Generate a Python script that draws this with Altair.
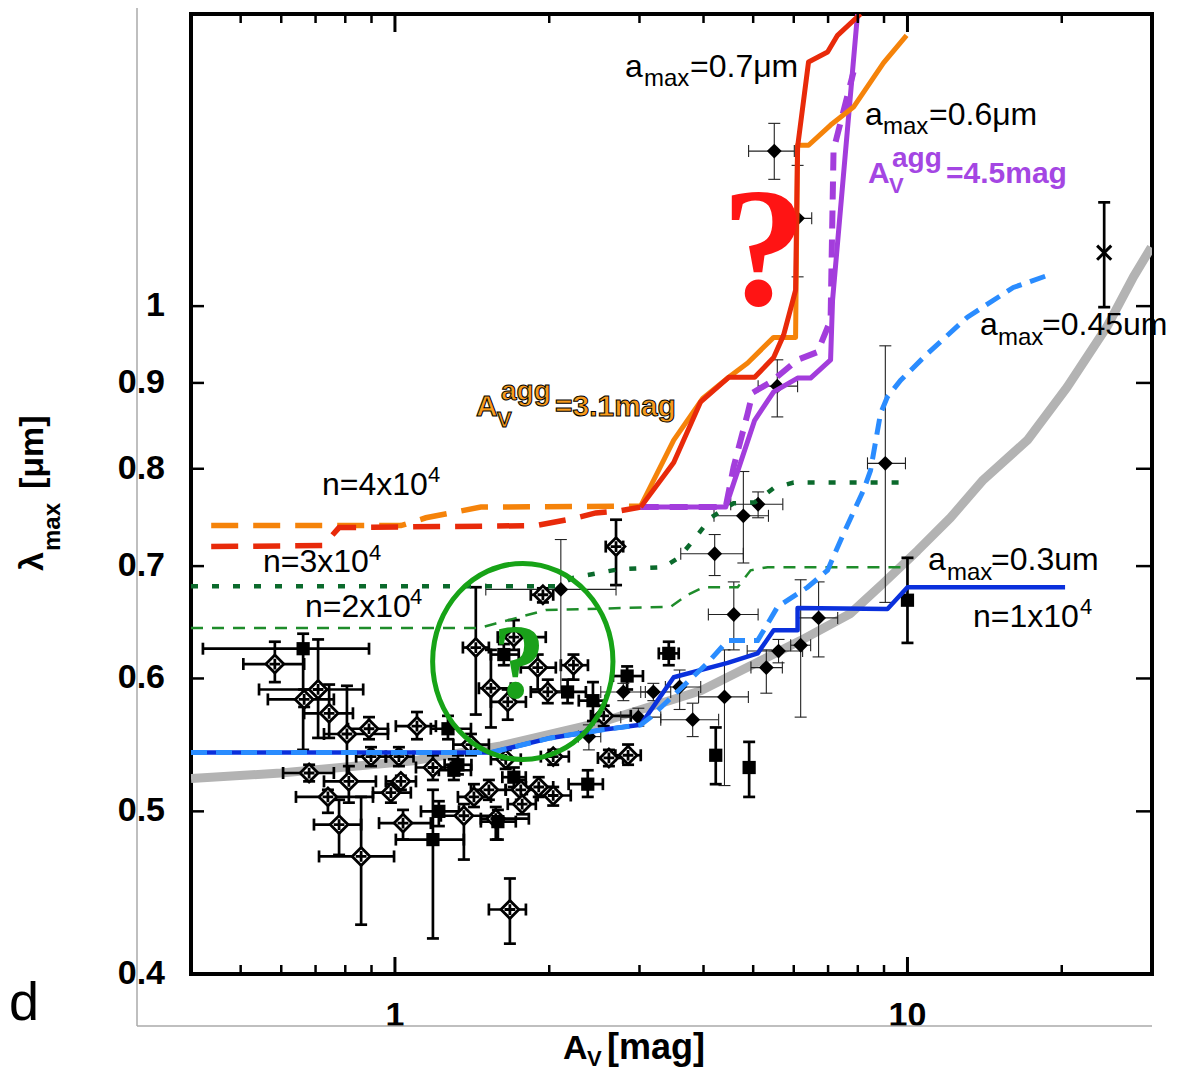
import altair as alt
import pandas as pd

# ---------------- model curves (A_V [mag], lambda_max [um]) ----------------
gray_x = [0.400, 0.599, 1.089, 1.609, 2.521, 3.949, 6.185, 7.743, 8.98, 10.46, 12.13, 14.06, 17.14, 20.5, 24.5, 27.6, 29.9]
gray_y = [0.523, 0.527, 0.536, 0.547, 0.565, 0.590, 0.632, 0.656, 0.684, 0.715, 0.748, 0.788, 0.832, 0.895, 0.972, 1.041, 1.084]

blue_x = [0.400, 1.538, 2.014, 2.521, 3.016, 3.499, 4.459, 5.101, 5.481, 6.104, 6.104, 9.14, 10.0, 20.3]
blue_y = [0.542, 0.542, 0.553, 0.559, 0.563, 0.601, 0.613, 0.621, 0.641, 0.641, 0.661, 0.660, 0.680, 0.680]

lblue_x = [0.400, 1.538, 2.014, 2.521, 3.016, 3.155, 4.075, 4.459, 5.101, 5.579, 6.384, 6.985, 7.504, 8.209, 8.47, 8.86, 9.14, 9.69, 10.94, 13.09, 16.09, 19.26]
lblue_y = [0.542, 0.542, 0.553, 0.559, 0.563, 0.569, 0.613, 0.632, 0.632, 0.662, 0.680, 0.696, 0.732, 0.777, 0.798, 0.863, 0.883, 0.903, 0.937, 0.985, 1.026, 1.046]

dgreen_x = [0.400, 2.060, 2.233, 2.733, 3.345, 3.578, 3.862, 4.13, 4.579, 5.033, 5.481, 5.995, 9.91]
dgreen_y = [0.681, 0.681, 0.689, 0.697, 0.699, 0.708, 0.728, 0.748, 0.763, 0.764, 0.779, 0.785, 0.785]

tgreen_x = [0.400, 1.458, 1.573, 1.969, 3.451, 3.726, 4.003, 4.663, 4.943, 5.335, 9.91]
tgreen_y = [0.643, 0.643, 0.647, 0.659, 0.662, 0.673, 0.680, 0.680, 0.696, 0.699, 0.699]

odash_x = [0.438, 1.027, 1.149, 1.286, 1.471, 3.016]
odash_y = [0.740, 0.740, 0.748, 0.753, 0.759, 0.760]

rdash_x = [0.438, 0.724, 0.778, 1.883, 2.223, 2.465, 2.733, 3.016]
rdash_y = [0.719, 0.720, 0.738, 0.740, 0.747, 0.753, 0.755, 0.759]

orange_x = [3.016, 3.499, 3.985, 4.479, 4.877, 5.481, 6.049, 6.104, 6.412, 7.079, 7.847, 8.98, 9.96]
orange_y = [0.760, 0.832, 0.881, 0.907, 0.925, 0.958, 0.958, 1.247, 1.247, 1.282, 1.314, 1.396, 1.450]

red_x = [3.016, 3.499, 3.949, 4.479, 5.033, 5.481, 5.732, 6.049, 6.104, 6.412, 6.985, 7.304, 8.10]
red_y = [0.759, 0.807, 0.877, 0.907, 0.907, 0.932, 0.961, 1.022, 1.244, 1.398, 1.417, 1.450, 1.493]

purple_x = [3.016, 4.419, 5.033, 5.481, 6.104, 6.47, 7.079, 7.142, 7.99]
purple_y = [0.759, 0.759, 0.855, 0.889, 0.906, 0.906, 0.929, 1.008, 1.493]

pdash_x = [3.016, 4.419, 4.579, 4.877, 4.988, 5.408, 6.104, 6.677, 7.079, 7.174, 7.847]
pdash_y = [0.759, 0.759, 0.802, 0.863, 0.888, 0.901, 0.929, 0.939, 0.981, 1.239, 1.379]

# ---------------- observations: (x, y, xlo, xhi, ylo, yhi) ----------------
open_pts = [
    (0.583, 0.612, 0.506, 0.665, 0.597, 0.631), (0.708, 0.591, 0.543, 0.867, 0.553, 0.633),
    (0.665, 0.583, 0.565, 0.760, 0.577, 0.591), (0.744, 0.572, 0.665, 0.828, 0.553, 0.595),
    (0.806, 0.556, 0.727, 0.969, 0.522, 0.594), (0.890, 0.560, 0.810, 0.969, 0.552, 0.569),
    (1.104, 0.562, 1.004, 1.202, 0.552, 0.573), (0.680, 0.527, 0.605, 0.760, 0.521, 0.533),
    (0.813, 0.521, 0.727, 0.918, 0.506, 0.532), (0.740, 0.510, 0.641, 0.906, 0.499, 0.515),
    (0.778, 0.491, 0.695, 0.859, 0.471, 0.508), (0.859, 0.470, 0.711, 0.996, 0.428, 0.510),
    (1.037, 0.492, 0.931, 1.175, 0.481, 0.501), (0.982, 0.513, 0.906, 1.074, 0.506, 0.519),
    (1.027, 0.521, 0.960, 1.099, 0.515, 0.525), (1.186, 0.531, 1.099, 1.286, 0.522, 0.540),
    (1.363, 0.497, 1.229, 1.573, 0.468, 0.505), (1.426, 0.510, 1.327, 1.539, 0.503, 0.519),
    (1.525, 0.515, 1.407, 1.645, 0.508, 0.522), (1.573, 0.495, 1.471, 1.825, 0.481, 0.503),
    (1.760, 0.515, 1.645, 1.883, 0.508, 0.522), (1.908, 0.517, 1.801, 2.036, 0.510, 0.524),
    (2.036, 0.511, 1.899, 2.203, 0.504, 0.517), (1.676, 0.437, 1.525, 1.801, 0.417, 0.456),
    (2.615, 0.538, 2.489, 2.788, 0.532, 0.544), (2.850, 0.540, 2.692, 3.017, 0.533, 0.548),
    (1.438, 0.626, 1.357, 1.525, 0.571, 0.680), (1.944, 0.673, 1.841, 2.036, 0.666, 0.679),
    (2.700, 0.719, 2.578, 2.788, 0.682, 0.746), (1.706, 0.635, 1.587, 1.969, 0.624, 0.650),
    (1.899, 0.609, 1.760, 2.060, 0.591, 0.620), (2.230, 0.611, 2.107, 2.380, 0.599, 0.620),
    (1.539, 0.592, 1.458, 1.683, 0.561, 0.624), (1.660, 0.581, 1.539, 1.801, 0.567, 0.591),
    (1.987, 0.589, 1.841, 2.126, 0.580, 0.599), (2.555, 0.570, 2.412, 2.885, 0.562, 0.578),
    (2.036, 0.539, 1.926, 2.184, 0.533, 0.544), (1.018, 0.539, 0.960, 1.087, 0.532, 0.546),
    (0.898, 0.539, 0.840, 0.960, 0.532, 0.546), (1.771, 0.505, 1.660, 1.883, 0.498, 0.512),
    (1.645, 0.537, 1.539, 1.760, 0.530, 0.544), (1.407, 0.548, 1.300, 1.525, 0.540, 0.556),
]
square_pts = [
    (0.662, 0.625, 0.422, 0.890, 0.544, 0.638), (1.269, 0.560, 1.175, 1.407, 0.552, 0.570),
    (1.186, 0.481, 1.004, 1.363, 0.420, 0.515), (1.218, 0.500, 1.124, 1.333, 0.490, 0.507),
    (1.303, 0.529, 1.218, 1.407, 0.522, 0.537), (1.631, 0.620, 1.539, 1.744, 0.611, 0.629),
    (1.588, 0.493, 1.471, 1.721, 0.481, 0.501), (2.378, 0.519, 2.182, 2.545, 0.510, 0.529),
    (2.172, 0.589, 2.014, 2.358, 0.580, 0.599), (2.434, 0.582, 2.284, 2.578, 0.566, 0.597),
    (3.422, 0.621, 3.272, 3.578, 0.611, 0.631), (2.838, 0.602, 2.663, 3.047, 0.591, 0.610),
    (4.226, 0.540, 4.226, 4.226, 0.519, 0.561), (4.910, 0.531, 4.910, 4.910, 0.510, 0.550),
    (10.0, 0.668, 10.0, 10.0, 0.630, 0.708), (1.327, 0.533, 1.250, 1.410, 0.526, 0.540),
    (1.706, 0.524, 1.620, 1.800, 0.517, 0.531),
]
filled_pts = [
    (5.497, 1.237, 4.898, 6.015, 1.190, 1.285), (6.104, 1.128, 5.490, 6.504, 1.041, 1.213),
    (5.572, 0.896, 5.112, 6.104, 0.859, 0.929), (9.053, 0.806, 8.356, 9.910, 0.666, 0.947),
    (5.112, 0.762, 4.520, 5.712, 0.748, 0.775), (4.784, 0.750, 4.193, 5.355, 0.703, 0.797),
    (4.206, 0.712, 3.611, 4.784, 0.691, 0.731), (4.583, 0.655, 4.088, 5.112, 0.624, 0.685),
    (6.708, 0.652, 6.104, 7.309, 0.618, 0.685), (6.189, 0.628, 5.917, 6.473, 0.569, 0.687),
    (5.603, 0.623, 4.867, 6.243, 0.613, 0.633), (5.304, 0.609, 4.950, 5.700, 0.588, 0.624),
    (3.593, 0.593, 3.370, 3.950, 0.575, 0.607), (4.395, 0.585, 3.912, 4.893, 0.518, 0.624),
    (3.810, 0.567, 3.301, 4.281, 0.554, 0.580), (3.193, 0.589, 3.017, 3.452, 0.582, 0.596),
    (2.790, 0.589, 2.521, 3.080, 0.582, 0.596), (2.985, 0.569, 2.758, 3.301, 0.562, 0.576),
    (2.107, 0.678, 1.504, 2.700, 0.589, 0.726), (2.390, 0.554, 2.280, 2.521, 0.544, 0.563),
]
cross_pts = [(24.2, 1.076, 24.2, 24.2, 0.9986, 1.153)]

circle_center = (1.776, 0.6142)

x_major = [1, 10]
x_major_labels = ["1", "10"]
x_minor = [0.5, 0.6, 0.7, 0.8, 0.9, 2, 3, 4, 5, 6, 7, 8, 9, 20]
y_ticks = [0.5, 0.6, 0.7, 0.8, 0.9, 1.0]
y_labels = [0.4, 0.5, 0.6, 0.7, 0.8, 0.9, 1.0]
y_label_text = ["0.4", "0.5", "0.6", "0.7", "0.8", "0.9", "1"]

# ---------------- build tables ----------------
XS = alt.Scale(type="log", domain=[0.4, 30], nice=False, zero=False)
YS = alt.Scale(type="log", domain=[0.4, 1.493], nice=False, zero=False)
W, H = 961, 960

rows = []
for kind, arr in [("open", open_pts), ("square", square_pts), ("filled", filled_pts), ("cross", cross_pts)]:
    for (x, y, xlo, xhi, ylo, yhi) in arr:
        rows.append(dict(kind=kind, thick=(kind != "filled"), x=x, y=y, xlo=xlo, xhi=xhi, ylo=ylo, yhi=yhi))
pts = pd.DataFrame(rows)

xcap_rows, ycap_rows = [], []
for r in rows:
    if r["xhi"] > r["xlo"]:
        xcap_rows += [dict(thick=r["thick"], x=r["xlo"], y=r["y"]), dict(thick=r["thick"], x=r["xhi"], y=r["y"])]
    ycap_rows += [dict(thick=r["thick"], x=r["x"], y=r["ylo"]), dict(thick=r["thick"], x=r["x"], y=r["yhi"])]
xcaps = pd.DataFrame(xcap_rows)
ycaps = pd.DataFrame(ycap_rows)


def X(f="x"):
    return alt.X(f"{f}:Q", scale=XS, axis=None)


def Y(f="y"):
    return alt.Y(f"{f}:Q", scale=YS, axis=None)


def curve(xs, ys, **mk):
    df = pd.DataFrame({"x": xs, "y": ys, "i": list(range(len(xs)))})
    return alt.Chart(df).mark_line(clip=True, **mk).encode(x=X(), y=Y(), order="i:Q")


layers = []

# gray relation
layers.append(curve(gray_x, gray_y, color="#b3b3b3", strokeWidth=9, strokeJoin="round"))

# error bars
for thick, sw, col in [(True, 2.7, "black"), (False, 1.1, "#222222")]:
    sub = pts[pts["thick"] == thick]
    subx = sub[sub["xhi"] > sub["xlo"]]
    layers.append(alt.Chart(subx).mark_rule(color=col, strokeWidth=sw).encode(x=X("xlo"), x2="xhi:Q", y=Y()))
    layers.append(alt.Chart(sub).mark_rule(color=col, strokeWidth=sw).encode(x=X(), y=Y("ylo"), y2="yhi:Q"))
    layers.append(alt.Chart(xcaps[xcaps["thick"] == thick]).mark_point(
        shape="M0,-1L0,1", size=144, filled=False, stroke=col, strokeWidth=sw, opacity=1).encode(x=X(), y=Y()))
    layers.append(alt.Chart(ycaps[ycaps["thick"] == thick]).mark_point(
        shape="M-1,0L1,0", size=144, filled=False, stroke=col, strokeWidth=sw, opacity=1).encode(x=X(), y=Y()))

# markers
OD = "M0,-1L1,0L0,1L-1,0Z M-0.6,0L0.6,0 M0,-0.6L0,0.6"
layers.append(alt.Chart(pts[pts["kind"] == "open"]).mark_point(
    shape=OD, size=320, filled=True, fill="white", stroke="black", strokeWidth=2.8, opacity=1).encode(x=X(), y=Y()))
layers.append(alt.Chart(pts[pts["kind"] == "square"]).mark_point(
    shape="square", size=175, filled=True, color="black", opacity=1).encode(x=X(), y=Y()))
layers.append(alt.Chart(pts[pts["kind"] == "filled"]).mark_point(
    shape="diamond", size=220, filled=True, color="black", opacity=1).encode(x=X(), y=Y()))
layers.append(alt.Chart(pts[pts["kind"] == "cross"]).mark_point(
    shape="M-1,-1L1,1M-1,1L1,-1", size=200, filled=False, stroke="black", strokeWidth=3, opacity=1).encode(x=X(), y=Y()))

# model lines
layers.append(curve(tgreen_x, tgreen_y, color="#1e8c2a", strokeWidth=2.5, strokeDash=[12, 9]))
layers.append(curve(dgreen_x, dgreen_y, color="#0b6a2c", strokeWidth=4.5, strokeDash=[7, 14]))
layers.append(curve(odash_x, odash_y, color="#f5830a", strokeWidth=5.5, strokeDash=[27, 15]))
layers.append(curve(rdash_x, rdash_y, color="#e82a0a", strokeWidth=5.5, strokeDash=[27, 15]))
layers.append(curve(blue_x, blue_y, color="#0a30dc", strokeWidth=4.5, strokeJoin="round"))
layers.append(curve(lblue_x, lblue_y, color="#2a8cff", strokeWidth=5, strokeDash=[16, 9]))
layers.append(curve(pdash_x, pdash_y, color="#a33ddc", strokeWidth=6, strokeDash=[18, 11]))
layers.append(curve(purple_x, purple_y, color="#a33ddc", strokeWidth=5, strokeJoin="round"))
layers.append(curve(orange_x, orange_y, color="#f5830a", strokeWidth=5, strokeJoin="round"))
layers.append(curve(red_x, red_y, color="#e82a0a", strokeWidth=5, strokeJoin="round"))

# green ellipse annotation
circ = pd.DataFrame({"x": [circle_center[0]], "y": [circle_center[1]]})
layers.append(alt.Chart(circ).mark_point(
    shape="M-0.92,0A0.92,1,0,1,1,0.92,0A0.92,1,0,1,1,-0.92,0Z", size=38416, filled=False,
    stroke="#17a317", strokeWidth=5, opacity=1).encode(x=X(), y=Y()))


# custom inward ticks on frame
def tick_layer(vals, axis, a, b, sw):
    df = pd.DataFrame({"v": vals})
    if axis == "x":
        return alt.Chart(df).mark_rule(color="black", strokeWidth=sw).encode(
            x=X("v"), y=alt.value(a), y2=alt.value(b))
    return alt.Chart(df).mark_rule(color="black", strokeWidth=sw).encode(
        y=Y("v"), x=alt.value(a), x2=alt.value(b))


layers += [
    tick_layer(x_major, "x", H, H - 17, 3), tick_layer(x_minor, "x", H, H - 9, 2.5),
    tick_layer(x_major, "x", 0, 18, 3), tick_layer(x_minor, "x", 0, 9, 2.5),
    tick_layer(y_ticks, "y", 0, 13, 2.5), tick_layer(y_ticks, "y", W, W - 16, 2.5),
]

# tick labels (through the data scales)
ylab = pd.DataFrame({"v": y_labels, "t": y_label_text})
layers.append(alt.Chart(ylab).mark_text(align="right", baseline="middle", font="Liberation Sans",
                                        fontWeight="bold", fontSize=34, color="black").encode(
    y=Y("v"), x=alt.value(-26), text="t:N"))
xlab = pd.DataFrame({"v": x_major, "t": x_major_labels})
layers.append(alt.Chart(xlab).mark_text(align="center", baseline="alphabetic", font="Liberation Sans",
                                        fontWeight="bold", fontSize=34, color="black").encode(
    x=X("v"), y=alt.value(1012), text="t:N"))

# outer gray frame lines
layers.append(alt.Chart().mark_rule(color="#aaaaaa", strokeWidth=1.5).encode(
    x=alt.value(-54), y=alt.value(-6), y2=alt.value(1012)))
layers.append(alt.Chart().mark_rule(color="#aaaaaa", strokeWidth=1.5).encode(
    x=alt.value(-54), x2=alt.value(W), y=alt.value(1012)))


# ---------------- text ----------------
def text_layer(items, **mk):
    df = pd.DataFrame(items, columns=["t", "px", "py", "fs"])
    opts = dict(align="left", baseline="alphabetic")
    opts.update(mk)
    return alt.Chart(df).mark_text(**opts).encode(
        x=alt.X("px:Q", scale=None, axis=None), y=alt.Y("py:Q", scale=None, axis=None),
        size=alt.Size("fs:Q", scale=None, legend=None), text="t:N")


reg = [("a", 434, 63, 32), ("max", 453, 72, 24), ("=0.7μm", 499, 63, 32),
       ("a", 674, 111, 32), ("max", 692, 120, 24), ("=0.6μm", 738, 111, 32),
       ("a", 789, 321, 32), ("max", 807, 331, 24), ("=0.45um", 851, 321, 32),
       ("a", 737, 556, 32), ("max", 756, 566, 24), ("=0.3um", 800, 556, 32),
       ("n=1x10", 782, 613, 32), ("4", 889, 600, 22),
       ("n=4x10", 131, 481, 32), ("4", 237, 468, 22),
       ("n=3x10", 72, 558, 32), ("4", 178, 546, 22),
       ("n=2x10", 114, 603, 32), ("4", 219, 590, 22)]
layers.append(text_layer(reg, font="Liberation Sans", color="black"))

purple_lbl = [("A", 677, 169, 30), ("V", 698, 179, 22), ("agg", 701, 153, 28), ("=4.5mag", 755, 169, 30)]
layers.append(text_layer(purple_lbl, font="Liberation Sans", fontWeight="bold", color="#a446e3"))

orange_lbl = [("A", 285, 402, 30), ("V", 306, 413, 22), ("agg", 310, 386, 28), ("=3.1mag", 364, 402, 30)]
layers.append(text_layer(orange_lbl, font="Liberation Sans", fontWeight="bold", fill="#f99b1c",
                         stroke="black", strokeWidth=1))

xtitle = [("A", 372, 1045, 34), ("V", 396, 1052, 22), ("[mag]", 416, 1045, 36)]
layers.append(text_layer(xtitle, font="Liberation Sans", fontWeight="bold", color="black"))

ytitle = [("λ", -148, 557, 34), ("max", -131, 537, 24), ("[μm]", -148, 475, 34)]
layers.append(text_layer(ytitle, font="Liberation Sans", fontWeight="bold", color="black", angle=270))

layers.append(text_layer([("d", -182, 1006, 54)], font="Liberation Sans", color="black", align="left"))

qm = pd.DataFrame({"t": ["?", "?"], "px": [573, 328], "py": [291, 684], "fs": [170, 105],
                   "c": ["#ff1414", "#1aa11a"]})
layers.append(alt.Chart(qm).mark_text(align="center", baseline="alphabetic", font="Liberation Serif",
                                      fontWeight="bold").encode(
    x=alt.X("px:Q", scale=None, axis=None), y=alt.Y("py:Q", scale=None, axis=None),
    size=alt.Size("fs:Q", scale=None, legend=None), color=alt.Color("c:N", scale=None, legend=None),
    text="t:N"))

chart = alt.layer(*layers).properties(
    width=W, height=H,
    padding={"left": 183, "top": 6, "right": 19, "bottom": 96},
    autosize=alt.AutoSizeParams(type="none"),
).configure_view(stroke="black", strokeWidth=4).configure_axis(grid=False)

chart.save("out.html", embed_options={"renderer": "svg", "actions": False})
